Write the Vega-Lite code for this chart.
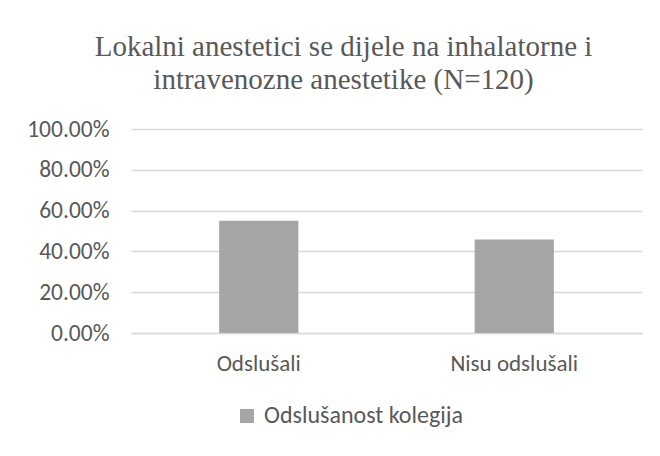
{
  "$schema": "https://vega.github.io/schema/vega-lite/v6.json",
  "autosize": {"type": "none"},
  "width": 511,
  "height": 204,
  "padding": {"left": 131, "top": 129, "right": 18, "bottom": 123},
  "background": "white",
  "title": {
    "text": ["Lokalni anestetici se dijele na inhalatorne i", "intravenozne anestetike (N=120)"],
    "font": "Liberation Serif",
    "fontSize": 29,
    "fontWeight": "normal",
    "color": "#595959",
    "lineHeight": 33,
    "anchor": "middle",
    "dx": -43,
    "offset": 22
  },
  "data": {
    "values": [
      {"kategorija": "Odslušali", "vrijednost": 0.55, "serija": "Odslušanost kolegija"},
      {"kategorija": "Nisu odslušali", "vrijednost": 0.4583, "serija": "Odslušanost kolegija"}
    ]
  },
  "mark": {"type": "bar", "color": "#a5a5a5"},
  "encoding": {
    "x": {
      "field": "kategorija",
      "type": "nominal",
      "sort": null,
      "scale": {"paddingInner": 0.69, "paddingOuter": 0.345},
      "axis": {
        "title": null,
        "labelAngle": 0,
        "labelFont": "Carlito, Open Sans",
        "labelFontSize": 23,
        "labelColor": "#595959",
        "labelPadding": 19,
        "ticks": false,
        "domainColor": "#d9d9d9",
        "domainWidth": 1.5
      }
    },
    "y": {
      "field": "vrijednost",
      "type": "quantitative",
      "scale": {"domain": [0, 1]},
      "axis": {
        "title": null,
        "format": ".2%",
        "values": [0, 0.2, 0.4, 0.6, 0.8, 1],
        "labelFont": "Carlito, Open Sans",
        "labelFontSize": 23.5,
        "labelColor": "#595959",
        "labelPadding": 22,
        "ticks": false,
        "domain": false,
        "gridColor": "#d9d9d9",
        "gridWidth": 1.5
      }
    },
    "fill": {
      "field": "serija",
      "type": "nominal",
      "scale": {"range": ["#a5a5a5"]},
      "legend": {
        "title": null,
        "orient": "none",
        "legendX": 104,
        "legendY": 275,
        "symbolType": "square",
        "symbolSize": 196,
        "symbolStrokeWidth": 0,
        "labelFont": "Carlito, Open Sans",
        "labelFontSize": 24,
        "labelLimit": 0,
        "labelColor": "#595959",
        "labelOffset": 5
      }
    }
  },
  "config": {
    "view": {"stroke": null}
  }
}
